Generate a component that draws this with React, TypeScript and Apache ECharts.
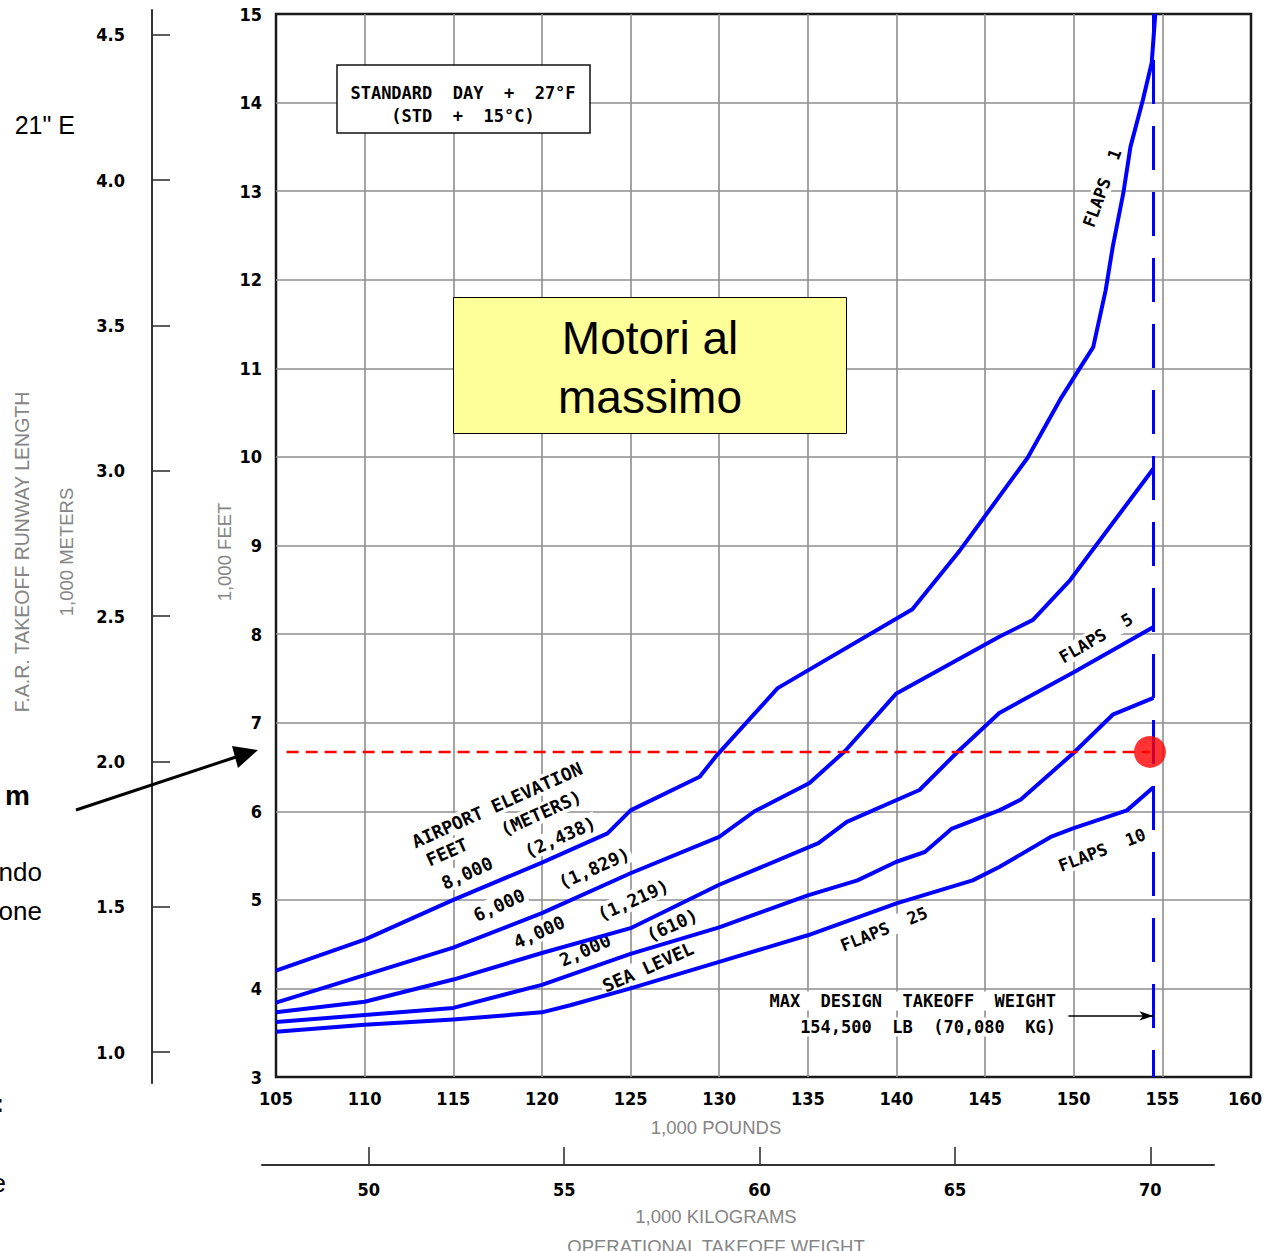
import { useEffect, useRef } from 'react';
import * as echarts from 'echarts';

// ---------- axis definitions ----------
const LB_MIN = 105;
const LB_MAX = 160;
const LB_STEP = 5;
const FT_MIN = 3;
const FT_MAX = 15;
const FT_STEP = 1;
const kgTicks = [50, 55, 60, 65, 70];
const meterTicks = [1.0, 1.5, 2.0, 2.5, 3.0, 3.5, 4.0, 4.5];
const LB_PER_KG = 2.20462;
const M_PER_FT = 0.3048;

// ---------- curves: [1,000 lb, 1,000 ft] ----------
const elev8000: [number, number][] = [
  [105, 4.2], [110, 4.55], [115, 5.0], [120, 5.42], [123.7, 5.75], [125, 6.01],
  [128.9, 6.39], [129.9, 6.64], [133.3, 7.39], [140.9, 8.28], [143.6, 8.95],
  [147.4, 9.99], [149.3, 10.67], [150.4, 11.02], [151.1, 11.24], [151.8, 11.88],
  [152.2, 12.37], [152.8, 12.98], [153.2, 13.5], [153.9, 14.03], [154.4, 14.45],
  [154.6, 15.0],
];
const elev6000: [number, number][] = [
  [105, 3.84], [110, 4.15], [115, 4.46], [120, 4.85], [125, 5.3], [130, 5.71],
  [132, 6.0], [135.1, 6.32], [137.1, 6.68], [140, 7.33], [145.8, 7.97],
  [147.7, 8.16], [149.8, 8.61], [154.5, 9.87],
];
const elev4000: [number, number][] = [
  [105, 3.73], [110, 3.85], [115, 4.1], [120, 4.4], [125, 4.68], [130, 5.17],
  [135.6, 5.64], [137.2, 5.88], [141.3, 6.24], [143.5, 6.68], [145.8, 7.11],
  [150, 7.57], [154.5, 8.08],
];
const elev2000: [number, number][] = [
  [105, 3.62], [110, 3.7], [115, 3.78], [120, 4.04], [125, 4.39], [130, 4.69],
  [135, 5.05], [137.8, 5.22], [140, 5.43], [141.6, 5.54], [143.1, 5.8],
  [145.8, 6.01], [147, 6.13], [150, 6.66], [152.2, 7.09], [154.5, 7.28],
];
const seaLevel: [number, number][] = [
  [105, 3.51], [110, 3.59], [115, 3.65], [120, 3.73], [121.6, 3.81], [125, 4.0],
  [130, 4.3], [135, 4.6], [140, 4.96], [144.3, 5.22], [145.8, 5.37],
  [148.7, 5.71], [150, 5.81], [153, 6.01], [154.5, 6.27],
];

// ---------- annotations (data values) ----------
const maxDesignWeightLb = 154.5;
const operatingWeightLb = 154.3;
const requiredRunwayKft = 6.67;
const redLineStartLb = 105.6;
const maxArrowStartLb = 149.7;
const maxArrowKft = 3.69;

// ---------- layout ----------
const PLOT_LEFT = 276;
const PLOT_TOP = 14;
const PLOT_W = 975;
const PLOT_H = 1063;
const KG_LEFT = 262;
const KG_W = 952;
const KG_LINE_Y = 1165;
const M_TOP = 10;
const M_H = 1073;
const M_X = 152;

const CAD = '"DejaVu Sans Mono"';
const NUM = '"DejaVu Sans Condensed", "DejaVu Sans"';
const SANS = '"Liberation Sans", Arial, sans-serif';

export default function App() {
  const ref = useRef<HTMLDivElement>(null);

  useEffect(() => {
    const chart = echarts.init(ref.current!, null, { renderer: 'svg' });

    const pxPerKlb = PLOT_W / (LB_MAX - LB_MIN);
    const pxPerKft = PLOT_H / (FT_MAX - FT_MIN);
    const kgMin = (LB_MIN - (PLOT_LEFT - KG_LEFT) / pxPerKlb) / LB_PER_KG;
    const kgMax = (LB_MAX - (PLOT_LEFT + PLOT_W - KG_LEFT - KG_W) / pxPerKlb) / LB_PER_KG;
    const mMin = (FT_MIN - (M_TOP + M_H - PLOT_TOP - PLOT_H) / pxPerKft) * M_PER_FT;
    const mMax = (FT_MAX + (PLOT_TOP - M_TOP) / pxPerKft) * M_PER_FT;

    const tickFont = { color: '#000', fontFamily: NUM, fontWeight: 'bold' as const, fontSize: 18 };
    const blue = '#0000ff';

    const curve = (name: string, data: [number, number][]) => ({
      name,
      type: 'line',
      xAxisIndex: 0,
      yAxisIndex: 0,
      data,
      showSymbol: false,
      symbol: 'none',
      smooth: false,
      z: 3,
      lineStyle: { color: blue, width: 4, join: 'round' },
    });

    const label = (
      text: string, x: number, y: number, deg: number,
      o: { size?: number; bg?: boolean; align?: string; z?: number } = {},
    ) => {
      const bg = o.bg !== false;
      const align = o.align || 'center';
      return {
        type: 'text',
        x,
        y,
        rotation: (deg * Math.PI) / 180,
        z: o.z ?? 1,
        style: {
          text,
          fill: '#000',
          fontFamily: CAD,
          fontWeight: 'bold',
          fontSize: o.size || 18,
          textAlign: align,
          textVerticalAlign: 'middle',
          align,
          verticalAlign: 'middle',
          backgroundColor: bg ? '#fff' : undefined,
          padding: bg ? [1, 2] : 0,
        },
      };
    };

    const plain = (
      text: string,
      x: number,
      y: number,
      opts: { size?: number; color?: string; weight?: string; family?: string; align?: string; deg?: number } = {},
    ) => ({
      type: 'text',
      x,
      y,
      rotation: ((opts.deg || 0) * Math.PI) / 180,
      z: 7,
      style: {
        text,
        fill: opts.color || '#000',
        fontFamily: opts.family || SANS,
        fontWeight: opts.weight || 'normal',
        fontSize: opts.size || 18.5,
        textAlign: opts.align || 'center',
        textVerticalAlign: 'middle',
        align: opts.align || 'center',
        verticalAlign: 'middle',
      },
    });

    const gray = '#858585';

    const option = {
      animation: false,
      backgroundColor: '#ffffff',
      grid: [
        {
          left: PLOT_LEFT, top: PLOT_TOP, width: PLOT_W, height: PLOT_H,
          show: true, borderColor: '#1a1a1a', borderWidth: 2.5, backgroundColor: 'transparent',
          outerBoundsMode: 'none', containLabel: false,
        },
        { left: KG_LEFT, top: KG_LINE_Y - 65, width: KG_W, height: 65, outerBoundsMode: 'none', containLabel: false },
        { left: M_X, top: M_TOP, width: 10, height: M_H, outerBoundsMode: 'none', containLabel: false },
      ],
      xAxis: [
        {
          gridIndex: 0, type: 'value', min: LB_MIN, max: LB_MAX, interval: LB_STEP,
          axisLine: { show: false }, axisTick: { show: false },
          axisLabel: {
            ...tickFont,
            margin: 12,
            formatter: (v: number) => (v === LB_MAX ? `{last|${v}}` : String(v)),
            rich: { last: { ...tickFont, padding: [0, 12, 0, 0] } },
          },
          splitLine: { show: true, showMinLine: false, showMaxLine: false, lineStyle: { color: '#8e8e8e', width: 1.6 } },
        },
        {
          gridIndex: 1, type: 'value', min: kgMin, max: kgMax, position: 'bottom',
          axisLine: { show: true, onZero: false, lineStyle: { color: '#333', width: 2 } },
          axisTick: { show: true, inside: true, length: 18, customValues: kgTicks, lineStyle: { color: '#333', width: 1.6 } },
          axisLabel: { ...tickFont, margin: 15, customValues: kgTicks, formatter: (v: number) => String(Math.round(v)) },
          splitLine: { show: false },
        },
        { gridIndex: 2, type: 'value', show: false, min: 0, max: 1 },
      ],
      yAxis: [
        {
          gridIndex: 0, type: 'value', min: FT_MIN, max: FT_MAX, interval: FT_STEP,
          axisLine: { show: false }, axisTick: { show: false },
          axisLabel: { ...tickFont, margin: 14 },
          splitLine: { show: true, showMinLine: false, showMaxLine: false, lineStyle: { color: '#8e8e8e', width: 1.6 } },
        },
        { gridIndex: 1, type: 'value', show: false, min: 0, max: 1 },
        {
          gridIndex: 2, type: 'value', min: mMin, max: mMax, position: 'left',
          axisLine: { show: true, onZero: false, lineStyle: { color: '#333', width: 2 } },
          axisTick: { show: true, inside: true, length: 18, customValues: meterTicks, lineStyle: { color: '#333', width: 1.6 } },
          axisLabel: { ...tickFont, margin: 27, customValues: meterTicks, formatter: (v: number) => v.toFixed(1) },
          splitLine: { show: false },
        },
      ],
      series: [
        curve('8,000 ft (2,438 m)', elev8000),
        curve('6,000 ft (1,829 m)', elev6000),
        curve('4,000 ft (1,219 m)', elev4000),
        curve('2,000 ft (610 m)', elev2000),
        curve('Sea level', seaLevel),
        {
          name: 'Max design takeoff weight',
          type: 'line',
          xAxisIndex: 0, yAxisIndex: 0,
          data: [[maxDesignWeightLb, FT_MAX], [maxDesignWeightLb, FT_MIN]],
          showSymbol: false, symbol: 'none', z: 3,
          lineStyle: { color: blue, width: 3, type: [44, 22], dashOffset: 20 },
          markLine: {
            silent: true,
            symbol: ['none', 'arrow'],
            symbolSize: [7, 14],
            label: { show: false },
            lineStyle: { color: '#000', width: 1.5, type: 'solid' },
            data: [[{ coord: [maxArrowStartLb, maxArrowKft] }, { coord: [maxDesignWeightLb, maxArrowKft] }]],
          },
        },
        {
          name: 'Runway required',
          type: 'line',
          xAxisIndex: 0, yAxisIndex: 0,
          data: [[redLineStartLb, requiredRunwayKft], [operatingWeightLb, requiredRunwayKft]],
          showSymbol: false, symbol: 'none', z: 4,
          lineStyle: { color: '#ff0000', width: 2.5, type: [12, 7] },
        },
        {
          name: 'Operating point',
          type: 'scatter',
          xAxisIndex: 0, yAxisIndex: 0,
          data: [[operatingWeightLb, requiredRunwayKft]],
          symbolSize: 32, z: 5,
          itemStyle: { color: '#ff0000' },
        },
      ],
      graphic: [
        // STANDARD DAY box
        { type: 'rect', z: 5, shape: { x: 337, y: 65, width: 253, height: 68 }, style: { fill: '#fff', stroke: '#111', lineWidth: 1.5 } },
        label('STANDARD  DAY  +  27°F', 463, 93, 0, { size: 17, bg: false, z: 6 }),
        label('(STD  +  15°C)', 463, 116, 0, { size: 17, bg: false, z: 6 }),
        // yellow box
        { type: 'rect', z: 5, shape: { x: 453.5, y: 297.5, width: 393, height: 136 }, style: { fill: '#ffff99', stroke: '#000', lineWidth: 1 } },
        plain('Motori al', 650, 338, { size: 46 }),
        plain('massimo', 650, 397, { size: 46 }),
        // elevation labels
        label('AIRPORT ELEVATION', 497, 805, 24),
        label('FEET', 447, 852, 24),
        label('(METERS)', 541, 813, 24),
        label('8,000', 467, 873, 24),
        label('(2,438)', 560, 837, 24),
        label('6,000', 499, 905, 24),
        label('(1,829)', 594, 868, 24),
        label('4,000', 539, 932, 24),
        label('(1,219)', 633, 900, 24),
        label('2,000', 585, 950, 24),
        label('(610)', 672, 925, 24),
        label('SEA LEVEL', 648, 967, 24),
        // flaps labels
        label('FLAPS  1', 1102, 188, 70, { size: 17 }),
        label('FLAPS  5', 1096, 638, 30, { size: 17 }),
        label('FLAPS  10', 1102, 850, 21, { size: 17 }),
        label('FLAPS  25', 884, 929, 22, { size: 17 }),
        // max design weight text
        label('MAX  DESIGN  TAKEOFF  WEIGHT', 1058, 1001, 0, { size: 17, align: 'right' }),
        label('154,500  LB  (70,080  KG)', 1058, 1027, 0, { size: 17, align: 'right' }),
        // axis titles
        plain('1,000 POUNDS', 716, 1127, { color: gray }),
        plain('1,000 KILOGRAMS', 716, 1216, { color: gray }),
        plain('OPERATIONAL TAKEOFF WEIGHT', 716, 1246, { color: gray }),
        plain('1,000 FEET', 224, 552, { color: gray, deg: 90 }),
        plain('1,000 METERS', 66, 552, { color: gray, deg: 90 }),
        plain('F.A.R. TAKEOFF RUNWAY LENGTH', 22, 552, { color: gray, deg: 90, size: 19.5 }),
        // slide fragments on the left
        plain('21" E', 75, 125, { size: 25, align: 'right' }),
        plain('m', 30, 795, { size: 28, weight: 'bold', align: 'right' }),
        plain('ndo', 42, 872, { size: 26, align: 'right' }),
        plain('one', 42, 911, { size: 26, align: 'right' }),
        plain(':', 4, 1103, { size: 26, weight: 'bold', align: 'right' }),
        plain('e', 6, 1183, { size: 26, align: 'right' }),
        // slide arrow
        { type: 'line', z: 6, shape: { x1: 76, y1: 810, x2: 236, y2: 757 }, style: { stroke: '#000', lineWidth: 3 } },
        { type: 'polygon', z: 6, shape: { points: [[258, 750], [232, 746], [238, 768]] }, style: { fill: '#000' } },
      ],
    };

    chart.setOption(option as any);
    return () => chart.dispose();
  }, []);

  return (
    <div
      ref={ref}
      style={{ position: 'absolute', left: 0, top: 0, width: 1265, height: 1251, background: '#fff' }}
    />
  );
}
